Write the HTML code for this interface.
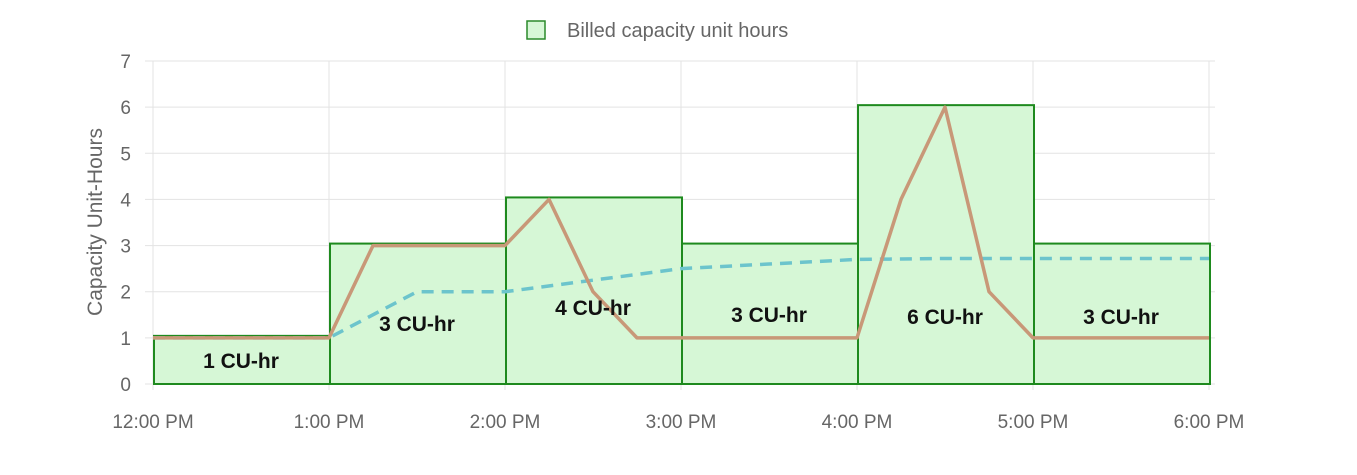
<!DOCTYPE html>
<html><head><meta charset="utf-8"><style>
html,body{margin:0;padding:0;background:#fff;}
svg{display:block;font-family:"Liberation Sans","DejaVu Sans",sans-serif;}
</style></head><body>
<svg id="chart" width="1357" height="475" viewBox="0 0 1357 475">
<g id="grid"></g>
<g id="bars"></g>
<g id="lines"></g>
<g id="labels"></g>
<g id="axes"></g>
<g>
<rect x="527" y="21" width="18" height="18" fill="#d6f7d6" stroke="#2a8a2a" stroke-width="1.5"/>
<text x="567" y="37" font-size="20" fill="#666">Billed capacity unit hours</text>
</g>
<text transform="translate(102,222) rotate(-90)" text-anchor="middle" font-size="21" fill="#666">Capacity Unit-Hours</text>
</svg>
<script>
const xTickLabels=["12:00 PM","1:00 PM","2:00 PM","3:00 PM","4:00 PM","5:00 PM","6:00 PM"];
const yTicks=[0,1,2,3,4,5,6,7];
const barValues=[1,3,4,3,6,3];
const barLabels=["1 CU-hr","3 CU-hr","4 CU-hr","3 CU-hr","6 CU-hr","3 CU-hr"];
const labelValues=[0.5,1.3,1.65,1.5,1.45,1.45];
const usageX=[0,0.25,0.5,0.75,1,1.25,1.5,1.75,2,2.25,2.5,2.75,3,3.25,3.5,3.75,4,4.25,4.5,4.75,5,5.25,5.5,5.75,6];
const usageY=[1,1,1,1,1,3,3,3,3,4,2,1,1,1,1,1,1,4,6,2,1,1,1,1,1];
const avgX=[0,1,1.5,2,2.5,3,3.5,4,4.5,5,5.5,6];
const avgY=[1,1,2,2,2.25,2.5,2.6,2.7,2.72,2.72,2.72,2.72];
const NS="http://www.w3.org/2000/svg";
const x0=153,x1=1209,y0=384,y7=61;
const X=v=>x0+(x1-x0)*v/6;
const Y=v=>y0-(y0-y7)*v/7;
function mk(tag,attrs,parent){const e=document.createElementNS(NS,tag);for(const k in attrs)e.setAttribute(k,attrs[k]);document.getElementById(parent).appendChild(e);return e;}
yTicks.forEach(t=>{
 const l=mk('line',{x1:145,x2:1215,y1:Y(t),y2:Y(t),stroke:'#e3e3e3','stroke-width':1},'grid');
 
 
 const tx=mk('text',{x:131,y:Y(t)+7,'text-anchor':'end','font-size':19,fill:'#666'},'axes');
 tx.textContent=t;
 
 
});
xTickLabels.forEach((s,i)=>{
 const l=mk('line',{x1:X(i),x2:X(i),y1:y7,y2:y0+6,stroke:'#e3e3e3','stroke-width':1},'grid');
 
 
 const tx=mk('text',{x:X(i),y:428,'text-anchor':'middle','font-size':19,fill:'#666'},'axes');
 tx.textContent=s;
 
 
});
barValues.forEach((v,i)=>{
 const r=mk('rect',{x:X(i)+1,y:Y(v)-2,width:X(i+1)-X(i),height:y0-Y(v)+2,fill:'#d6f7d6',stroke:'#1e8a1e','stroke-width':2},'bars');
 
 
 const t=mk('text',{x:(X(i)+X(i+1))/2,y:Y(labelValues[i])+7,'text-anchor':'middle','font-size':21,'font-weight':'bold',fill:'#111'},'labels');
 t.textContent=barLabels[i];
 
 
});
const avg=mk('polyline',{points:avgX.map((x,i)=>X(x)+','+Y(avgY[i])).join(' '),fill:'none',stroke:'#6cc4cc','stroke-width':3.5,'stroke-dasharray':'12,8'},'lines');


const use=mk('polyline',{points:usageX.map((x,i)=>X(x)+','+Y(usageY[i])).join(' '),fill:'none',stroke:'#c89878','stroke-width':3.5,'stroke-linejoin':'round'},'lines');


</script>
</body></html>
